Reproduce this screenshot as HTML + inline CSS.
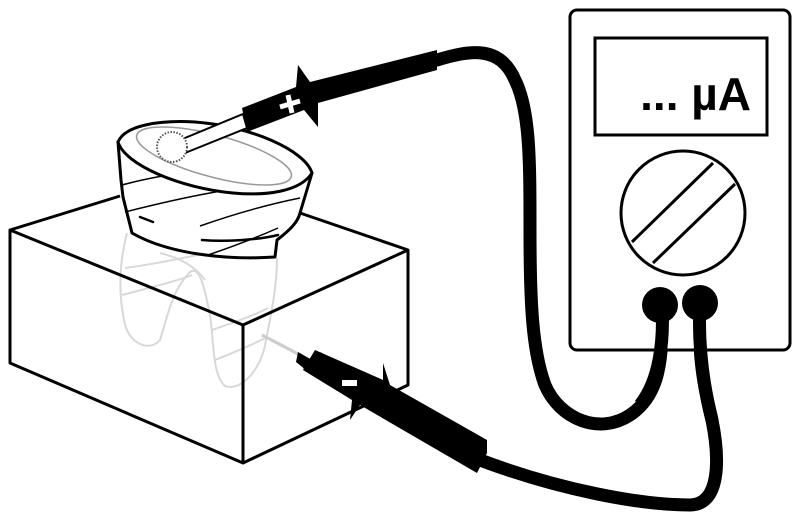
<!DOCTYPE html>
<html><head><meta charset="utf-8"><style>html,body{margin:0;padding:0;background:#fff}svg{display:block}</style></head>
<body>
<svg width="795" height="532" viewBox="0 0 795 532" xmlns="http://www.w3.org/2000/svg">
<g fill="none" stroke="#d8d8d8" stroke-width="2">
<path d="M127,233 C120,260 118,290 124,320 C128,345 150,352 160,340 C168,315 172,290 190,272 C200,265 205,290 210,315 C214,340 212,375 225,386 C240,392 262,370 266,340 C272,310 277,285 277,258"/>
<path d="M160,253 C180,258 195,266 205,280"/>
<path d="M125,268 C170,262 220,250 275,238"/>
<path d="M122,295 C160,285 180,280 192,275"/>
<path d="M212,330 C235,322 255,315 268,308"/>
<path d="M215,360 C235,352 252,345 265,338"/>
</g>
<g fill="none" stroke="#000" stroke-width="3" stroke-linejoin="round">
<path d="M10,230 L120,196"/>
<path d="M300,213 L408,250 L408,385 L243,463 L10,363 L10,230 L243,325 L408,250"/>
<path d="M243,325 L243,463"/>
</g>
<path d="M118,142 L123,197 L132,233 C170,255 230,260 275,257 L277,240 C290,230 298,222 300,213 L312,173 Z" fill="#fff" stroke="none"/>
<g fill="none" stroke="#000" stroke-width="1.5">
<path d="M122,185 C170,172 220,168 255,165"/>
<path d="M125,212 C180,198 240,185 300,182"/>
<path d="M200,226 C240,212 270,204 300,198"/>
<path d="M205,256 C235,246 260,236 278,228"/>
</g>
<g fill="none" stroke="#000" stroke-width="3" stroke-linecap="round" stroke-linejoin="round">
<path d="M118,142 L121,180 L123,197 L127,213 L132,233 C170,255 230,260 275,257 L277,240 C290,230 298,222 300,213 L312,173"/>
<path d="M140,217 L153,222" stroke-width="2.5"/>
<path d="M202,240 C225,242 258,240 278,235" stroke-width="2.5"/>
<path d="M118,142 C125,125 160,120 195,122 C250,126 305,150 312,173 C300,192 265,196 233,193 C180,188 125,165 118,142 Z" fill="#fff"/>
</g>
<ellipse cx="214" cy="156" rx="80" ry="21" transform="rotate(15 214 156)" fill="none" stroke="#999" stroke-width="1.5"/>
<path d="M180,140 L243,114 L247,128 L185,153 Z" fill="#fff" stroke="#000" stroke-width="2"/>
<circle cx="172" cy="147" r="15" fill="#fff" stroke="#555" stroke-width="2" stroke-dasharray="1.5 1.5"/>
<path d="M242,108 L296,87 L298,65 L310,82 L437,50 L437,70 L318,103 L318,127 L304,110 L247,132 Z" fill="#000"/>
<path d="M280,107 L300,101 M288,95 L292,113" stroke="#fff" stroke-width="5"/>
<path d="M437,60 C470,50 500,45 515,80 C530,110 530,160 530,230 C530,300 532,350 545,385 C560,420 600,435 630,415 C660,395 663,360 662,305" fill="none" stroke="#000" stroke-width="13" stroke-linecap="round"/>
<path d="M262,335 L300,355" stroke="#ccc" stroke-width="3"/>
<path d="M298,352 L312,360 L306,370 L296,362 Z" fill="#000"/>
<path d="M315,350 L383,380 L383,363 L390,385 L487,440 L487,453 L477,473 L360,405 L350,420 L352,400 L303,370 Z" fill="#000"/>
<path d="M320,352 L487,445 L477,466 L303,368 Z" fill="#000"/>
<rect x="342" y="380" width="15" height="6" fill="#fff"/>
<path d="M480,460 C560,490 640,505 690,505 C720,505 720,460 712,420 C702,380 698,350 700,303" fill="none" stroke="#000" stroke-width="13" stroke-linecap="round"/>
<rect x="570" y="10" width="220" height="340" rx="7" fill="#fff" stroke="#000" stroke-width="3"/>
<rect x="595" y="38" width="172" height="97" fill="#fff" stroke="#000" stroke-width="3"/>
<text x="751" y="110" font-family="Liberation Sans, sans-serif" font-weight="bold" font-size="46" fill="#000" text-anchor="end">... µA</text>
<circle cx="683" cy="213" r="62" fill="#fff" stroke="#000" stroke-width="3"/>
<path d="M632,242 L713,163 M653,263 L735,184" stroke="#000" stroke-width="3"/>
<circle cx="660" cy="305" r="18" fill="#000"/>
<circle cx="700" cy="303" r="18" fill="#000"/>
<path d="M662,305 C664,340 660,380 640,405" fill="none" stroke="#000" stroke-width="13"/>
<path d="M700,303 C698,340 702,380 712,420" fill="none" stroke="#000" stroke-width="13"/>
</svg>
</body></html>
